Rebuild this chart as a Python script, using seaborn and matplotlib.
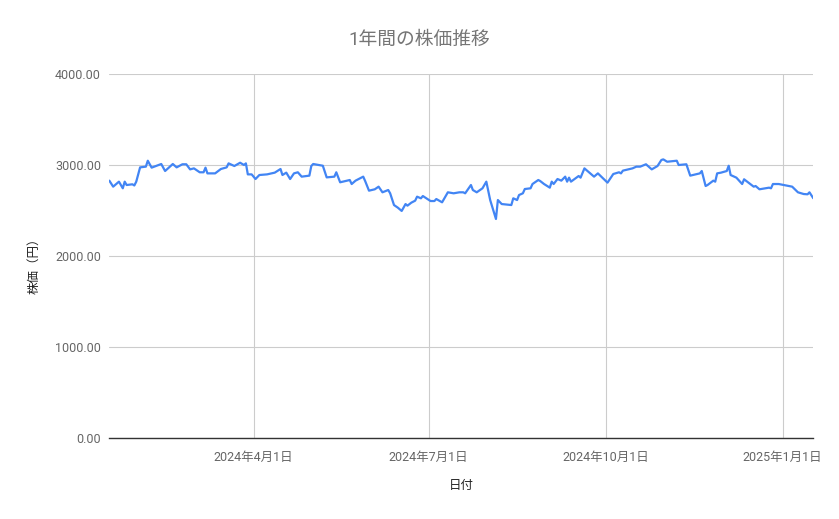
import numpy as np
import pandas as pd
import seaborn as sns
import matplotlib
matplotlib.use("Agg")
from matplotlib import pyplot as plt
import matplotlib.dates as mdates
from matplotlib.ticker import FuncFormatter, FixedLocator

# values
dates = [
    "2024-01-17", "2024-01-19", "2024-01-22", "2024-01-24", "2024-01-25", "2024-01-26",
    "2024-01-29", "2024-01-30", "2024-01-31", "2024-02-02", "2024-02-05", "2024-02-06",
    "2024-02-08", "2024-02-13", "2024-02-15", "2024-02-19", "2024-02-21", "2024-02-24",
    "2024-02-26", "2024-02-28", "2024-03-01", "2024-03-04", "2024-03-06", "2024-03-07",
    "2024-03-08", "2024-03-12", "2024-03-15", "2024-03-18", "2024-03-19", "2024-03-22",
    "2024-03-25", "2024-03-27", "2024-03-28", "2024-03-29", "2024-03-31", "2024-04-02",
    "2024-04-04", "2024-04-08", "2024-04-12", "2024-04-15", "2024-04-16", "2024-04-18",
    "2024-04-20", "2024-04-22", "2024-04-24", "2024-04-26", "2024-04-30", "2024-05-01",
    "2024-05-02", "2024-05-07", "2024-05-09", "2024-05-13", "2024-05-14", "2024-05-16",
    "2024-05-21", "2024-05-22", "2024-05-24", "2024-05-28", "2024-05-29", "2024-05-31",
    "2024-06-03", "2024-06-05", "2024-06-07", "2024-06-10", "2024-06-11", "2024-06-13",
    "2024-06-15", "2024-06-17", "2024-06-19", "2024-06-20", "2024-06-22", "2024-06-24",
    "2024-06-25", "2024-06-27", "2024-06-28", "2024-07-02", "2024-07-04", "2024-07-05",
    "2024-07-08", "2024-07-11", "2024-07-14", "2024-07-17", "2024-07-19", "2024-07-20",
    "2024-07-23", "2024-07-24", "2024-07-26", "2024-07-29", "2024-07-31", "2024-08-02",
    "2024-08-05", "2024-08-06", "2024-08-08", "2024-08-13", "2024-08-14", "2024-08-16",
    "2024-08-17", "2024-08-19", "2024-08-20", "2024-08-23", "2024-08-24", "2024-08-27",
    "2024-08-28", "2024-08-30", "2024-09-02", "2024-09-03", "2024-09-04", "2024-09-06",
    "2024-09-08", "2024-09-10", "2024-09-11", "2024-09-12", "2024-09-13", "2024-09-17",
    "2024-09-18", "2024-09-20", "2024-09-25", "2024-09-27", "2024-09-30", "2024-10-02",
    "2024-10-05", "2024-10-08", "2024-10-09", "2024-10-10", "2024-10-15", "2024-10-17",
    "2024-10-19", "2024-10-22", "2024-10-25", "2024-10-28", "2024-10-30", "2024-10-31",
    "2024-11-02", "2024-11-07", "2024-11-08", "2024-11-12", "2024-11-14", "2024-11-19",
    "2024-11-20", "2024-11-22", "2024-11-23", "2024-11-26", "2024-11-27", "2024-11-28",
    "2024-11-30", "2024-12-03", "2024-12-04", "2024-12-05", "2024-12-08", "2024-12-11",
    "2024-12-12", "2024-12-17", "2024-12-18", "2024-12-20", "2024-12-25", "2024-12-26",
    "2024-12-27", "2024-12-30", "2025-01-06", "2025-01-09", "2025-01-12", "2025-01-14",
    "2025-01-15", "2025-01-17",
]
prices = [
    2828, 2762, 2817, 2744, 2817, 2780,
    2788, 2775, 2817, 2974, 2982, 3047,
    2971, 3011, 2934, 3011, 2974, 3008,
    3008, 2952, 2963, 2920, 2920, 2971,
    2908, 2908, 2956, 2974, 3018, 2989,
    3025, 3000, 3018, 2897, 2897, 2846,
    2890, 2897, 2916, 2956, 2890, 2916,
    2846, 2908, 2920, 2872, 2883, 2989,
    3011, 2992, 2864, 2872, 2920, 2810,
    2835, 2791, 2828, 2872, 2824, 2718,
    2733, 2762, 2700, 2725, 2689, 2560,
    2531, 2495, 2571, 2553, 2586, 2608,
    2652, 2634, 2659, 2604, 2604, 2626,
    2590, 2700, 2689, 2700, 2700, 2689,
    2780, 2725, 2700, 2744, 2817, 2615,
    2407, 2615, 2571, 2560, 2634, 2615,
    2670, 2689, 2736, 2744, 2791, 2835,
    2824, 2791, 2751, 2817, 2791, 2846,
    2828, 2872, 2817, 2861, 2817, 2879,
    2861, 2963, 2872, 2908, 2846, 2806,
    2901, 2920, 2908, 2938, 2963, 2982,
    2982, 3008, 2952, 2989, 3055, 3062,
    3036, 3047, 3000, 3008, 2883, 2908,
    2934, 2769, 2780, 2828, 2817, 2908,
    2916, 2934, 2992, 2890, 2861, 2791,
    2843, 2762, 2769, 2733, 2751, 2744,
    2791, 2791, 2762, 2700, 2681, 2678,
    2700, 2634,
]
tick_dates = ["2024-04-01", "2024-07-01", "2024-10-01", "2025-01-01"]
y_ticks = [0, 1000, 2000, 3000, 4000]

title = "1年間の株価推移"
xlabel = "日付"
ylabel = "株価（円）"

df = pd.DataFrame({"日付": pd.to_datetime(dates), "株価": prices})

sns.set_style("white")
plt.rcParams["font.family"] = ["Roboto", "Noto Sans CJK JP", "DejaVu Sans"]

W, H = 839, 519
fig = plt.figure(figsize=(W / 100, H / 100), dpi=100)
ax = fig.add_axes([0.1303, 0.1561, 0.8391, 0.7013])

sns.lineplot(data=df, x="日付", y="株価", ax=ax, color="#4285f4", linewidth=1.6)

ax.set_xlim(pd.Timestamp("2024-01-17"), pd.Timestamp("2025-01-17"))
ax.set_ylim(0, 4000)

ax.xaxis.set_major_locator(FixedLocator(mdates.date2num(pd.to_datetime(tick_dates))))
ax.xaxis.set_major_formatter(FuncFormatter(
    lambda v, p: (lambda d: f"{d.year}年{d.month}月{d.day}日")(mdates.num2date(v))))
ax.set_yticks(y_ticks)
ax.yaxis.set_major_formatter(FuncFormatter(lambda v, p: f"{v:.2f}"))

ax.grid(True, color="#cccccc", linewidth=0.8)
ax.set_axisbelow(True)
for s in ["top", "right", "left"]:
    ax.spines[s].set_visible(False)
ax.spines["bottom"].set_color("#333333")
ax.spines["bottom"].set_linewidth(1.0)
ax.spines["bottom"].set_zorder(3)

ax.tick_params(axis="both", length=0, labelsize=9, colors="#666666")
ax.tick_params(axis="x", pad=9)
ax.tick_params(axis="y", pad=6)

ax.set_xlabel("")
ax.set_ylabel("")
fig.text(461 / W, 1 - 486 / H, xlabel, ha="center", va="center", fontsize=9, color="#222222")
fig.text(34 / W, 1 - 263 / H, ylabel, ha="center", va="center", rotation=90,
         fontsize=9, color="#222222")
fig.text(0.5, 1 - 40 / H, title, ha="center", va="center", fontsize=13.5, color="#757575")

fig.savefig("out.png", dpi=100)
